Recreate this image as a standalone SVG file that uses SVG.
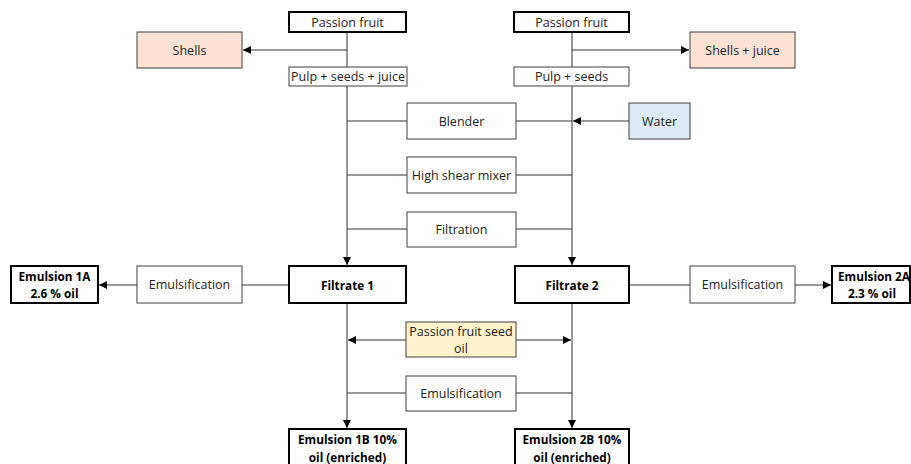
<svg xmlns="http://www.w3.org/2000/svg" width="911" height="464" viewBox="0 0 911 464">
<defs>
<style>
.b{fill:#fff;stroke:#404040;stroke-width:1}
.k{fill:#fff;stroke:#000;stroke-width:2}
.peach{fill:#fbe2d5;stroke:#404040;stroke-width:1}
.blue{fill:#deebf7;stroke:#404040;stroke-width:1}
.yel{fill:#fff2cc;stroke:#404040;stroke-width:1}
text{font-family:"Open Sans","Liberation Sans",sans-serif;font-size:12.5px;fill:#222;text-anchor:middle;dominant-baseline:central}
.bold{font-weight:bold;fill:#000;font-size:11.8px}
.c line{stroke:#333;stroke-width:1}
</style>
<marker id="a" viewBox="0 0 10 10" refX="10" refY="5" markerWidth="8" markerHeight="8" markerUnits="userSpaceOnUse" orient="auto"><path d="M0,0L10,5L0,10z" fill="#000"/></marker>
</defs>
<rect width="911" height="464" fill="#fff"/>
<g class="c" id="connectors">
<line x1="347" y1="32" x2="347" y2="67"/>
<line x1="347" y1="50" x2="243" y2="50" marker-end="url(#a)"/>
<line x1="572" y1="32" x2="572" y2="67"/>
<line x1="572" y1="50" x2="689" y2="50" marker-end="url(#a)"/>
<line x1="347" y1="86" x2="347" y2="265" marker-end="url(#a)"/>
<line x1="572" y1="86" x2="572" y2="265" marker-end="url(#a)"/>
<line x1="347" y1="121" x2="407" y2="121"/>
<line x1="516" y1="121" x2="572" y2="121"/>
<line x1="629" y1="121" x2="573" y2="121" marker-end="url(#a)"/>
<line x1="347" y1="175" x2="407" y2="175"/>
<line x1="516" y1="175" x2="572" y2="175"/>
<line x1="347" y1="229" x2="407" y2="229"/>
<line x1="516" y1="229" x2="572" y2="229"/>
<line x1="288" y1="285" x2="242" y2="285"/>
<line x1="137" y1="285" x2="99" y2="285" marker-end="url(#a)"/>
<line x1="629" y1="285" x2="690" y2="285"/>
<line x1="795" y1="285" x2="831" y2="285" marker-end="url(#a)"/>
<line x1="347" y1="303" x2="347" y2="428" marker-end="url(#a)"/>
<line x1="572" y1="303" x2="572" y2="428" marker-end="url(#a)"/>
<line x1="406" y1="340" x2="348" y2="340" marker-end="url(#a)"/>
<line x1="516" y1="340" x2="571" y2="340" marker-end="url(#a)"/>
<line x1="347" y1="393" x2="406" y2="393"/>
<line x1="516" y1="393" x2="572" y2="393"/>
</g>
<g id="pf1"><rect class="k" x="289" y="12" width="117" height="20"/><text x="347.5" y="22">Passion fruit</text></g>
<g id="shells"><rect class="peach" x="137" y="32" width="105" height="36"/><text x="189.5" y="50">Shells</text></g>
<g id="pulp1"><rect class="b" x="289" y="67" width="118" height="19"/><text x="348" y="76.5">Pulp + seeds + juice</text></g>
<g id="pf2"><rect class="k" x="514" y="12" width="115" height="20"/><text x="571.5" y="22">Passion fruit</text></g>
<g id="shellsjuice"><rect class="peach" x="690" y="32" width="105" height="36"/><text x="742.5" y="50">Shells + juice</text></g>
<g id="pulp2"><rect class="b" x="514" y="67" width="115" height="19"/><text x="571.5" y="76.5">Pulp + seeds</text></g>
<g id="blender"><rect class="b" x="407" y="103" width="109" height="36"/><text x="461.5" y="121">Blender</text></g>
<g id="water"><rect class="blue" x="629" y="103" width="61" height="36"/><text x="659.5" y="121">Water</text></g>
<g id="mixer"><rect class="b" x="407" y="157" width="109" height="36"/><text x="461.5" y="175">High shear mixer</text></g>
<g id="filtration"><rect class="b" x="407" y="212" width="109" height="35"/><text x="461.5" y="229.5">Filtration</text></g>
<g id="filtrate1"><rect class="k" x="289" y="266" width="117" height="37"/><text class="bold" x="347.5" y="284.5">Filtrate 1</text></g>
<g id="emul1"><rect class="b" x="137" y="266" width="105" height="37"/><text x="189.5" y="284.5">Emulsification</text></g>
<g id="em1a"><rect class="k" x="11" y="266" width="87" height="37"/><text class="bold" x="54.5" y="276">Emulsion 1A</text><text class="bold" x="54.5" y="293">2.6 % oil</text></g>
<g id="filtrate2"><rect class="k" x="515" y="266" width="114" height="37"/><text class="bold" x="572" y="284.5">Filtrate 2</text></g>
<g id="emul2"><rect class="b" x="690" y="266" width="105" height="37"/><text x="742.5" y="284.5">Emulsification</text></g>
<g id="em2a"><rect class="k" x="832" y="266" width="78" height="37"/><text class="bold" x="874" y="276">Emulsion 2A</text><text class="bold" x="872" y="293">2.3 % oil</text></g>
<g id="oil"><rect class="yel" x="406" y="322" width="110" height="35"/><text x="461" y="331">Passion fruit seed</text><text x="461" y="348">oil</text></g>
<g id="emul3"><rect class="b" x="406" y="376" width="110" height="35"/><text x="461" y="393.5">Emulsification</text></g>
<g id="em1b"><rect class="k" x="289" y="429" width="117" height="45"/><text class="bold" x="347.5" y="439">Emulsion 1B 10%</text><text class="bold" x="347.5" y="457">oil (enriched)</text></g>
<g id="em2b"><rect class="k" x="515" y="429" width="114" height="45"/><text class="bold" x="572" y="439">Emulsion 2B 10%</text><text class="bold" x="572" y="457">oil (enriched)</text></g>
</svg>
